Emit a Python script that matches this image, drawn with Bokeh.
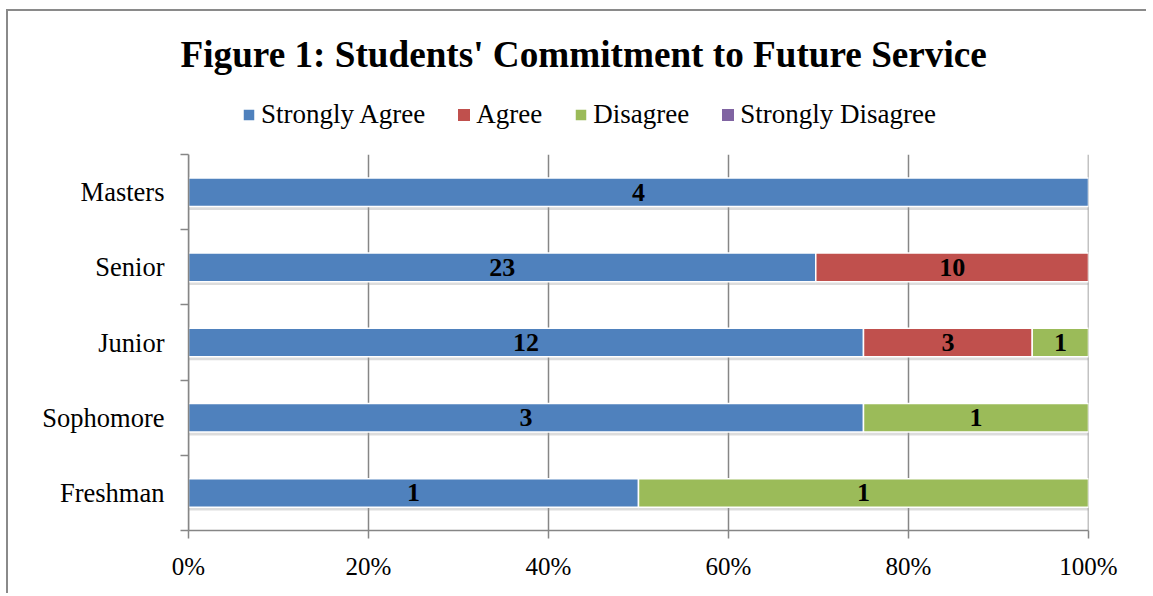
from bokeh.plotting import figure
from bokeh.models import ColumnDataSource, FixedTicker, Legend, LegendItem, Range1d, LabelSet
from bokeh.embed import file_html
from bokeh.resources import INLINE

categories = ["Freshman", "Sophomore", "Junior", "Senior", "Masters"]
series_names = ["Strongly Agree", "Agree", "Disagree", "Strongly Disagree"]
strongly_agree = [1, 3, 12, 23, 4]
agree = [0, 0, 3, 10, 0]
disagree = [1, 1, 1, 0, 0]
strongly_disagree = [0, 0, 0, 0, 0]
colors = ["#4F81BD", "#C0504D", "#9BBB59", "#8064A2"]
x_ticks = [0, 20, 40, 60, 80, 100]
x_tick_labels = ["0%", "20%", "40%", "60%", "80%", "100%"]

SERIF = "Liberation Serif"
GRID = "#868686"

series = [strongly_agree, agree, disagree, strongly_disagree]
totals = [sum(v) for v in zip(*series)]
ypos = [i + 0.5 for i in range(len(categories))]
n_cat = len(categories)

# frame extends above the bars to host the legend
p = figure(width=1140, height=584, x_range=Range1d(0, 100), y_range=Range1d(0, n_cat + 0.8),
           output_backend="svg", toolbar_location=None,
           min_border_left=180, min_border_right=60, min_border_bottom=65, min_border_top=0)
p.styles = {"border-left": "2px solid #8a8a8a", "border-top": "2px solid #8a8a8a",
            "margin-left": "6px", "margin-top": "9px"}
p.outline_line_color = None

# title
p.title.text = "Figure 1: Students' Commitment to Future Service"
p.title.text_font = SERIF
p.title.text_font_size = "37.2px"
p.title.text_font_style = "bold"
p.title.text_color = "black"
p.title.align = "left"
p.title.offset = -8
p.title.standoff = 40

# vertical gridlines (only over the bar area)
p.segment(x0=x_ticks, y0=[0] * len(x_ticks), x1=x_ticks, y1=[n_cat] * len(x_ticks),
          line_color=GRID, line_width=1.5)

# bars
left_acc = [0.0] * n_cat
renderers = []
lab_x, lab_y, lab_t = [], [], []
for name, vals, col in zip(series_names, series, colors):
    pct = [100.0 * v / t for v, t in zip(vals, totals)]
    lefts = list(left_acc)
    rights = [l + q for l, q in zip(lefts, pct)]
    shown = [1.0 if v > 0 else 0.0 for v in vals]
    src = ColumnDataSource(dict(y=ypos, left=lefts, right=rights, a=shown,
                                ys=[y - 0.045 for y in ypos], sa=[0.35 * s for s in shown]))
    # soft shadow
    p.hbar(y="ys", left="left", right="right", height=0.38, source=src,
           fill_color="#9a9a9a", fill_alpha="sa", line_color=None)
    r = p.hbar(y="y", left="left", right="right", height=0.38, source=src,
               fill_color=col, line_color="white", line_width=1.5, line_alpha="a")
    renderers.append(r)
    for v, l, rr, y in zip(vals, lefts, rights, ypos):
        if v > 0:
            lab_x.append((l + rr) / 2)
            lab_y.append(y)
            lab_t.append(str(v))
    left_acc = rights

lab_src = ColumnDataSource(dict(x=lab_x, y=lab_y, t=lab_t))
labels = LabelSet(x="x", y="y", text="t", source=lab_src, text_align="center",
                  text_baseline="middle", text_font=SERIF, text_font_size="26px",
                  text_font_style="bold", text_color="black")
p.add_layout(labels)

# legend
legend = Legend(items=[LegendItem(label=n, renderers=[r]) for n, r in zip(series_names, renderers)],
                orientation="horizontal", location=(53, 400),
                label_text_font=SERIF, label_text_font_size="27px", label_text_color="black",
                glyph_width=15, glyph_height=15, label_standoff=5, spacing=31,
                padding=2, margin=0, border_line_color=None, background_fill_alpha=0)
p.add_layout(legend, "center")

# axes
p.xaxis.ticker = FixedTicker(ticks=x_ticks)
p.xaxis.major_label_overrides = {t: s for t, s in zip(x_ticks, x_tick_labels)}
p.xaxis.major_label_text_font = SERIF
p.xaxis.major_label_text_font_size = "25px"
p.xaxis.major_label_text_color = "black"
p.xaxis.axis_line_color = GRID
p.xaxis.axis_line_width = 1.5
p.xaxis.major_tick_line_color = GRID
p.xaxis.major_tick_line_width = 1.5
p.xaxis.major_tick_out = 8
p.xaxis.major_tick_in = 0
p.xaxis.minor_tick_line_color = None
p.xaxis.major_label_standoff = 14

p.yaxis.ticker = FixedTicker(ticks=ypos, minor_ticks=[float(i) for i in range(n_cat + 1)])
p.yaxis.bounds = (0, n_cat)
p.yaxis.major_label_overrides = {y: c for y, c in zip(ypos, categories)}
p.yaxis.major_label_text_font = SERIF
p.yaxis.major_label_text_font_size = "26.5px"
p.yaxis.major_label_text_color = "black"
p.yaxis.axis_line_color = GRID
p.yaxis.axis_line_width = 1.5
p.yaxis.major_tick_line_color = None
p.yaxis.major_tick_out = 0
p.yaxis.major_tick_in = 0
p.yaxis.minor_tick_line_color = GRID
p.yaxis.minor_tick_line_width = 1.5
p.yaxis.minor_tick_out = 8
p.yaxis.minor_tick_in = 0
p.yaxis.major_label_standoff = 16

p.xgrid.grid_line_color = None
p.ygrid.grid_line_color = None

open("out.html", "w").write(file_html(p, INLINE))
